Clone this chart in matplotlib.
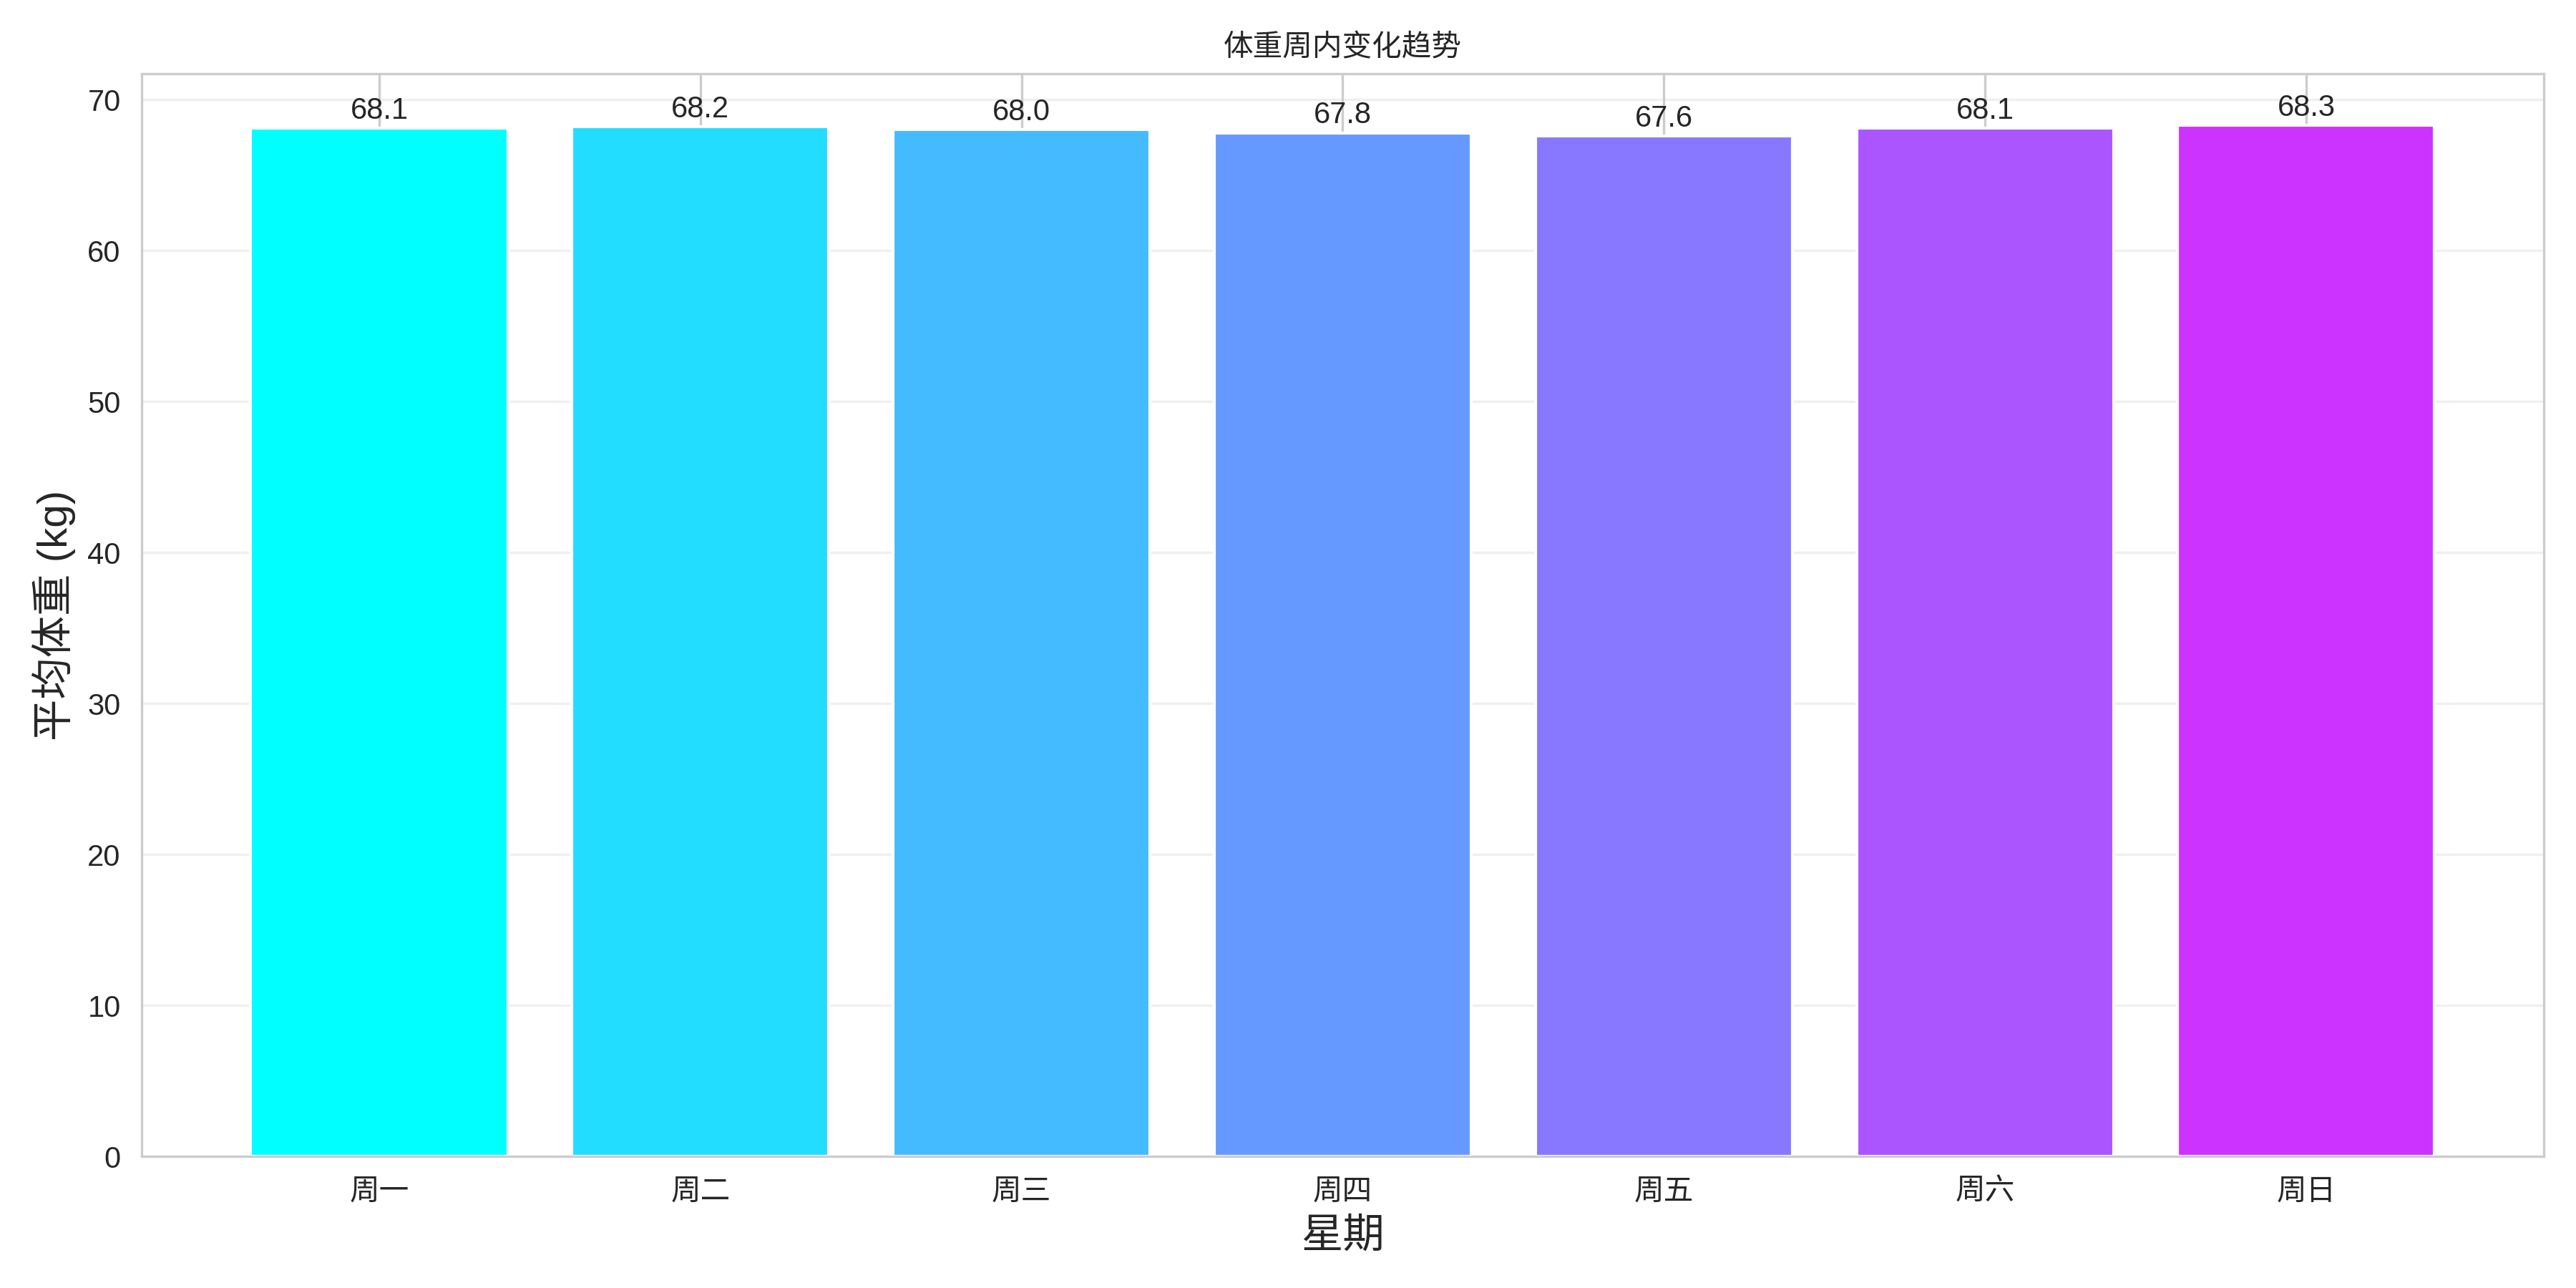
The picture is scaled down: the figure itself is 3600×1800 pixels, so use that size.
import numpy as np
import matplotlib
matplotlib.use("Agg")
import matplotlib.pyplot as plt
import seaborn as sns

days = ["周一", "周二", "周三", "周四", "周五", "周六", "周日"]
avg_weight = [68.1, 68.2, 68.0, 67.8, 67.6, 68.1, 68.3]

sns.set_style("whitegrid")
plt.rcParams['font.family'] = ['Liberation Sans', 'Noto Sans CJK SC']
plt.rcParams['axes.unicode_minus'] = False

fig, ax = plt.subplots(figsize=(12, 6))
colors = plt.cm.cool(np.linspace(0, 0.8, len(days)))
bars = ax.bar(days, avg_weight, color=colors)

for b, v in zip(bars, avg_weight):
    ax.text(b.get_x() + b.get_width() / 2, v + 0.2, f"{v:.1f}",
            ha='center', va='bottom', fontsize=10)

ax.set_title("体重周内变化趋势", fontsize=10)
ax.set_xlabel("星期", fontsize=14)
ax.set_ylabel("平均体重 (kg)", fontsize=14)
ax.tick_params(labelsize=10)
ax.grid(axis='y', alpha=0.3)

plt.tight_layout()
plt.savefig("out.png", dpi=300)
